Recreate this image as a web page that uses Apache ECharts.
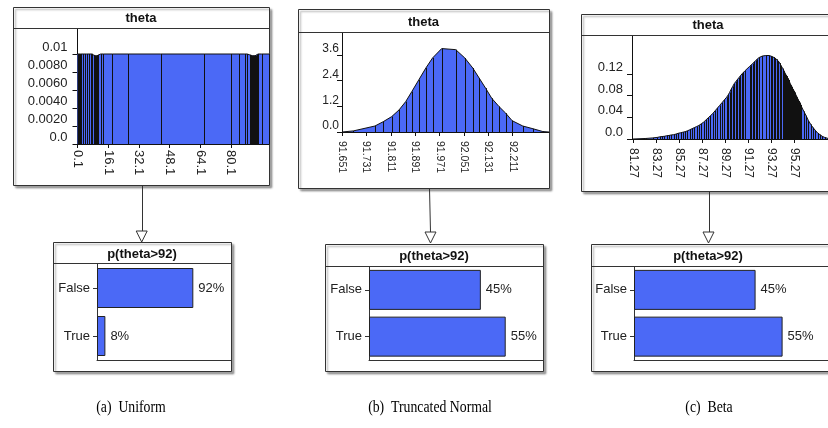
<!DOCTYPE html>
<html><head><meta charset="utf-8">
<script src="https://cdn.jsdelivr.net/npm/echarts@6/dist/echarts.min.js"></script>
<style>html,body{margin:0;padding:0;background:#fff}#c{width:828px;height:428px}</style>
</head><body><div id="c"></div>
<script>
// ---------- DATA ----------
// (a) Uniform: bin edges and density at each edge
const uniX = [0, 0.25, 0.5, 0.75, 1.0, 1.25, 1.5, 1.75, 2.0, 2.9, 3.9, 4.8, 6.0, 6.9, 7.7, 8.6, 8.9, 9.2, 9.5, 9.8, 10.1, 10.4, 10.8, 12.1, 13.5, 18.2, 26.5, 43.4, 66.1, 80.1, 84.4, 87.4, 88.6, 90.0, 90.3, 90.6, 90.9, 91.2, 91.5, 91.8, 92.1, 92.4, 92.7, 93.0, 93.3, 93.5, 94.3, 96.1, 100];
const uniY = [0.01, 0.01, 0.01, 0.01, 0.01, 0.01, 0.01, 0.01, 0.01, 0.01, 0.01, 0.01, 0.01, 0.01, 0.01, 0.0099, 0.0098, 0.0098, 0.0098, 0.0098, 0.0098, 0.0098, 0.0099, 0.01, 0.01, 0.01, 0.01, 0.01, 0.01, 0.01, 0.01, 0.01, 0.01, 0.0099, 0.0098, 0.0098, 0.0098, 0.0098, 0.0098, 0.0098, 0.0098, 0.0098, 0.0098, 0.0098, 0.0098, 0.0099, 0.01, 0.01, 0.01];
const uniXTicks = [0.1, 16.1, 32.1, 48.1, 64.1, 80.1];
const uniXLabels = ['0.1', '16.1', '32.1', '48.1', '64.1', '80.1'];
const uniYTicks = [0, 0.002, 0.004, 0.006, 0.008, 0.01];
const uniYLabels = ['0.0', '0.0020', '0.0040', '0.0060', '0.0080', '0.01'];

// (b) Truncated Normal
const normX = [91.651, 91.688, 91.759, 91.786, 91.814, 91.838, 91.860, 91.880, 91.903, 91.926, 91.948, 91.978, 92.024, 92.054, 92.080, 92.101, 92.122, 92.142, 92.166, 92.188, 92.209, 92.244, 92.278, 92.310, 92.330];
const normY = [0.0, 0.05, 0.28, 0.48, 0.72, 1.03, 1.42, 1.89, 2.44, 2.99, 3.46, 3.90, 3.85, 3.46, 2.99, 2.52, 2.05, 1.58, 1.19, 0.88, 0.53, 0.28, 0.15, 0.02, 0.0];
const normXTicks = [91.651, 91.731, 91.811, 91.891, 91.971, 92.051, 92.131, 92.211];
const normXLabels = ['91.651', '91.731', '91.811', '91.891', '91.971', '92.051', '92.131', '92.211'];
const normYTicks = [0, 1.2, 2.4, 3.6];
const normYLabels = ['0.0', '1.2', '2.4', '3.6'];

// (c) Beta
const betaX = [81.27, 82.4, 83.0,
  83.4, 83.6, 83.8, 84.0, 84.2, 84.4, 84.6, 84.8, 85.0, 85.2, 85.4, 85.6, 85.8, 86.0, 86.2, 86.4, 86.6, 86.8, 87.0, 87.2, 87.4, 87.6, 87.8, 88.0, 88.2, 88.4, 88.6, 88.8, 89.0, 89.2, 89.4,
  89.53, 89.66, 89.8, 89.93, 90.06, 90.2, 90.33, 90.46, 90.6, 90.73, 90.86, 91.0, 91.4, 91.53, 91.66, 91.8, 91.93, 92.06, 92.2, 92.5, 92.8,
  93.1, 93.23, 93.36, 93.49, 93.62, 93.75, 93.88, 94.01, 94.14, 94.27, 94.4,
  94.475, 94.55, 94.625, 94.7, 94.775, 94.85, 94.925, 95.0, 95.075, 95.15, 95.225, 95.3, 95.375, 95.45, 95.525, 95.6, 95.675, 95.75, 95.825, 95.9,
  96.1, 96.3, 96.5, 96.7, 96.9, 97.1, 97.3, 97.5, 97.7, 97.9, 98.2];
const betaY = [0.0, 0.001, 0.002,
  0.003, 0.004, 0.0045, 0.005, 0.006, 0.0065, 0.0075, 0.008, 0.009, 0.0105, 0.0115, 0.0125, 0.0135, 0.015, 0.017, 0.019, 0.021, 0.023, 0.025, 0.028, 0.031, 0.035, 0.039, 0.043, 0.047, 0.052, 0.057, 0.062, 0.067, 0.072, 0.077,
  0.081, 0.086, 0.092, 0.097, 0.102, 0.106, 0.109, 0.113, 0.116, 0.120, 0.123, 0.126, 0.134, 0.136, 0.139, 0.142, 0.145, 0.147, 0.150, 0.153, 0.154,
  0.154, 0.153, 0.152, 0.151, 0.149, 0.147, 0.144, 0.140, 0.135, 0.130, 0.125,
  0.121, 0.118, 0.116, 0.112, 0.109, 0.106, 0.102, 0.099, 0.096, 0.092, 0.089, 0.086, 0.083, 0.080, 0.077, 0.073, 0.070, 0.067, 0.063, 0.060,
  0.051, 0.043, 0.034, 0.027, 0.021, 0.016, 0.011, 0.008, 0.005, 0.003, 0.001];
const betaXTicks = [81.27, 83.27, 85.27, 87.27, 89.27, 91.27, 93.27, 95.27];
const betaXLabels = ['81.27', '83.27', '85.27', '87.27', '89.27', '91.27', '93.27', '95.27'];
const betaYTicks = [0, 0.04, 0.08, 0.12];
const betaYLabels = ['0.0', '0.04', '0.08', '0.12'];

// p(theta>92)
const categories = ['False', 'True'];
const probUniform = [92, 8];
const probNormal = [45, 55];
const probBeta = [45, 55];

const panelTitle = 'theta';
const nodeTitle = 'p(theta>92)';
const captions = ['(a)  Uniform', '(b)  Truncated Normal', '(c)  Beta'];

// ---------- STYLE / BUILD ----------
const BLUE = '#4b69f6';
const INK = '#111';
const FONT = '"Liberation Sans", Arial, sans-serif';

function lookup(ticks, labels) {
  return function (v) {
    let best = 0, d = Infinity;
    ticks.forEach((t, i) => { const dd = Math.abs(t - v); if (dd < d) { d = dd; best = i; } });
    return labels[best];
  };
}

const grids = [
  { left: 77.5, top: 29, width: 191.5, height: 115 },
  { left: 342, top: 33, width: 207, height: 99 },
  { left: 632, top: 36, width: 203, height: 103 },
  { left: 97, top: 264, width: 134, height: 96 },
  { left: 369, top: 266.5, width: 174, height: 93.5 },
  { left: 634, top: 266.5, width: 206, height: 93.5 }
];

function topX(idx, min, max, ticks, labels, margin, fs) {
  return {
    type: 'value', gridIndex: idx, min: min, max: max,
    axisLine: { show: true, onZero: false, lineStyle: { color: INK, width: 1 } },
    axisTick: { show: true, length: 4, customValues: ticks, lineStyle: { color: INK } },
    axisLabel: { customValues: ticks, rotate: -90, margin: margin, fontSize: fs, color: '#222', fontFamily: FONT, formatter: lookup(ticks, labels) },
    splitLine: { show: false }
  };
}
function topY(idx, max, ticks, labels, margin, fs) {
  return {
    type: 'value', gridIndex: idx, min: 0, max: max,
    axisLine: { show: true, onZero: false, lineStyle: { color: INK, width: 1 } },
    axisTick: { show: true, length: 5, customValues: ticks, lineStyle: { color: INK } },
    axisLabel: { customValues: ticks, margin: margin, fontSize: fs, color: '#222', fontFamily: FONT, verticalAlign: 'bottom', formatter: lookup(ticks, labels) },
    splitLine: { show: false }
  };
}
function botX(idx, max) {
  return {
    type: 'value', gridIndex: idx, min: 0, max: max,
    axisLine: { show: true, lineStyle: { color: '#333', width: 1 } },
    axisTick: { show: false }, axisLabel: { show: false }, splitLine: { show: false }
  };
}
function botY(idx) {
  return {
    type: 'category', gridIndex: idx, data: categories, inverse: true,
    axisLine: { show: true, lineStyle: { color: '#333', width: 1 } },
    axisTick: { show: true, length: 4, alignWithLabel: true, lineStyle: { color: '#333' } },
    axisLabel: { margin: 7, fontSize: 13, color: '#222', fontFamily: FONT }
  };
}

function histSeries(idx, xs, ys) {
  const data = xs.map((x, i) => [x, ys[i]]);
  return [
    {
      type: 'line', xAxisIndex: idx, yAxisIndex: idx, data: data,
      symbol: 'none', showSymbol: false, animation: false,
      lineStyle: { color: INK, width: 1 },
      areaStyle: { color: BLUE, opacity: 1 }, z: 2
    },
    {
      type: 'custom', xAxisIndex: idx, yAxisIndex: idx, data: data, animation: false, z: 3,
      renderItem: function (params, api) {
        const b = api.coord([api.value(0), 0]);
        const t = api.coord([api.value(0), api.value(1)]);
        const x = Math.round(b[0]) + 0.5;
        return { type: 'line', shape: { x1: x, y1: b[1], x2: x, y2: t[1] }, style: { stroke: INK, lineWidth: 1 } };
      }
    }
  ];
}
function barSeries(idx, vals) {
  return {
    type: 'bar', xAxisIndex: idx, yAxisIndex: idx, data: vals, barWidth: 40, animation: false,
    itemStyle: { color: BLUE, borderColor: '#222', borderWidth: 1 },
    label: { show: true, position: 'right', distance: 5, formatter: '{c}%', fontSize: 13, color: '#222', fontFamily: FONT }
  };
}

// boxes: [x, y, w, h, sepY, titleX, titleY, text]
const boxes = [
  [13.5, 7.5, 256, 178, 28.5, 141, 18.5, panelTitle],
  [298.5, 9.5, 251, 179, 32.5, 423.5, 22, panelTitle],
  [581.5, 14.5, 260, 177, 35.5, 708, 25.5, panelTitle],
  [53.5, 242.5, 178, 129, 263.5, 142, 254, nodeTitle],
  [325.5, 244.5, 218, 127, 266.5, 434, 256, nodeTitle],
  [591.5, 244.5, 250, 127, 266.5, 708, 256, nodeTitle]
];
const graphics = [];
boxes.forEach(b => {
  graphics.push({ type: 'rect', z: -10, shape: { x: b[0], y: b[1], width: b[2], height: b[3] },
    style: { fill: '#fff', stroke: '#333', lineWidth: 1, shadowColor: 'rgba(0,0,0,0.35)', shadowOffsetX: 2, shadowOffsetY: 2, shadowBlur: 2 } });
  graphics.push({ type: 'line', z: 10, shape: { x1: b[0], y1: b[4], x2: b[0] + b[2], y2: b[4] }, style: { stroke: '#333', lineWidth: 1 } });
  graphics.push({ type: 'text', z: 10, x: b[5], y: b[6], style: { text: b[7], font: 'bold 13px ' + FONT, fill: '#111', align: 'center', verticalAlign: 'middle' } });
});
// arrows: [x1, y1, x2, y2, tipX, tipY]
const arrows = [
  [142.5, 185.5, 142.5, 231, 141.7, 242],
  [429.5, 188.5, 430.5, 232, 430.5, 243],
  [709.5, 191.5, 709.5, 232, 708.5, 243]
];
arrows.forEach(a => {
  graphics.push({ type: 'line', z: 10, shape: { x1: a[0], y1: a[1], x2: a[2], y2: a[3] }, style: { stroke: '#333', lineWidth: 1 } });
  graphics.push({ type: 'polygon', z: 11, shape: { points: [[a[4] - 5.5, a[5] - 11], [a[4] + 5.5, a[5] - 11], [a[4], a[5]]] },
    style: { fill: '#fff', stroke: '#333', lineWidth: 1 } });
});
const capX = [131, 430, 709];
captions.forEach((c, i) => {
  graphics.push({ type: 'text', z: 10, x: capX[i], y: 408, scaleX: 0.86, scaleY: 1.05,
    style: { text: c, font: '16px "Liberation Serif", "Times New Roman", serif', fill: '#000', align: 'center', verticalAlign: 'middle' } });
});

const option = {
  backgroundColor: '#fff',
  animation: false,
  grid: grids,
  xAxis: [
    topX(0, 0, 100, uniXTicks, uniXLabels, 6, 13),
    topX(1, 91.651, 92.33, normXTicks, normXLabels, 9, 10.5),
    topX(2, 81.19, 98.2, betaXTicks, betaXLabels, 9, 12),
    botX(3, 128),
    botX(4, 70),
    botX(5, 71.8)
  ],
  yAxis: [
    topY(0, 0.012778, uniYTicks, uniYLabels, 10, 13),
    topY(1, 4.628, normYTicks, normYLabels, 3, 12),
    topY(2, 0.190, betaYTicks, betaYLabels, 9, 13),
    botY(3), botY(4), botY(5)
  ],
  series: [].concat(
    histSeries(0, uniX, uniY),
    histSeries(1, normX, normY),
    histSeries(2, betaX, betaY),
    [barSeries(3, probUniform), barSeries(4, probNormal), barSeries(5, probBeta)]
  ),
  graphic: graphics
};
const chart = echarts.init(document.getElementById('c'), null, { renderer: 'canvas' });
chart.setOption(option);
</script></body></html>
